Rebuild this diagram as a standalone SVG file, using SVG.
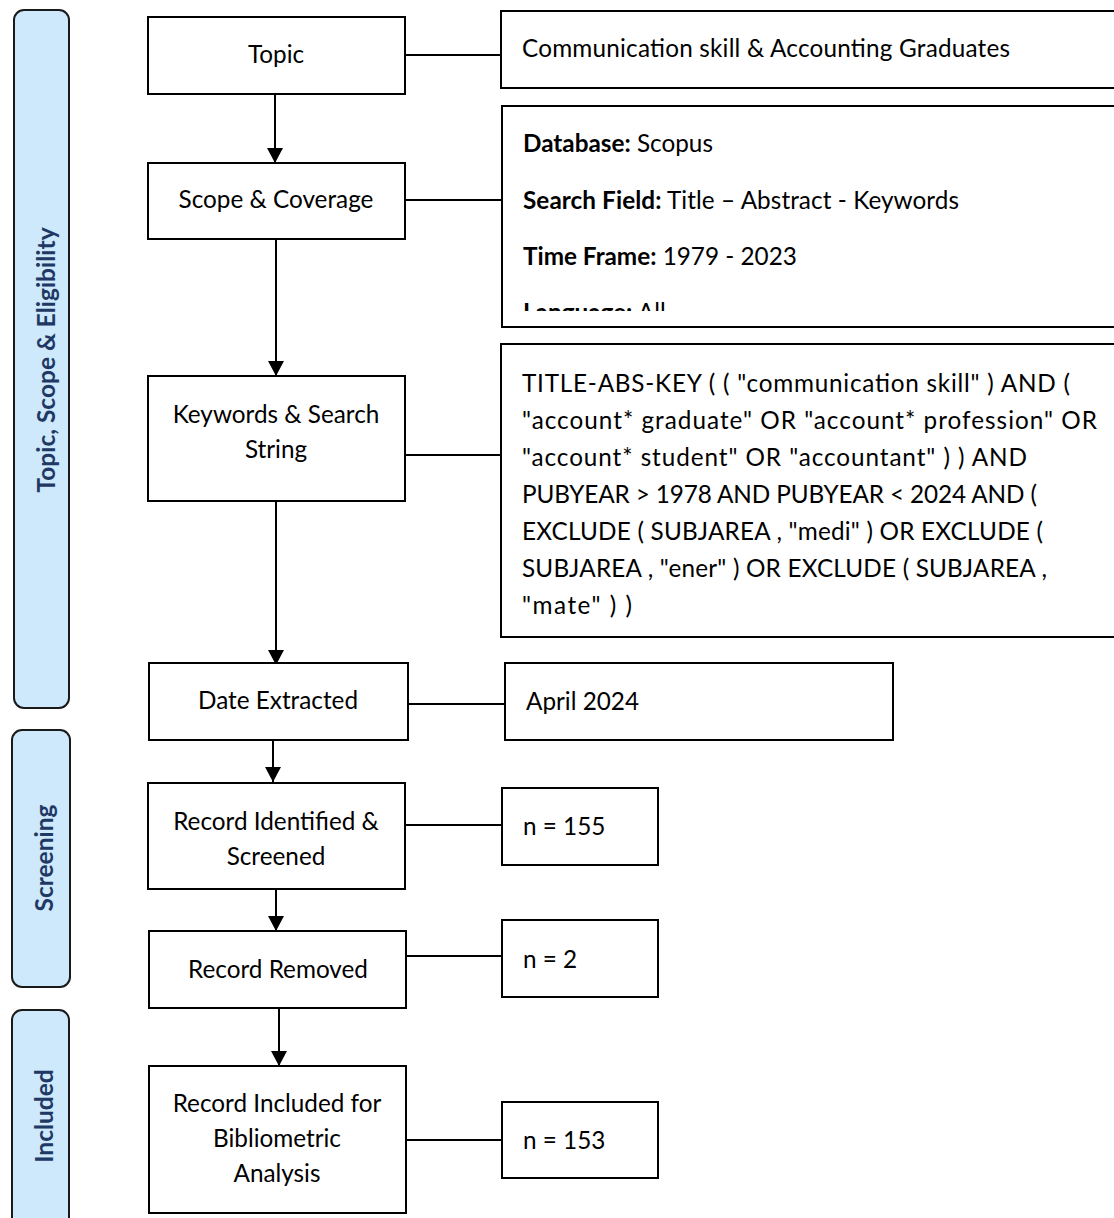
<svg xmlns="http://www.w3.org/2000/svg" width="1114" height="1218" viewBox="0 0 1114 1218">
  <style>
    .bar { fill: #CDE9FB; stroke: #1a1a1a; stroke-width: 2; }
    .bart { font-family: Lato, "Liberation Sans", sans-serif; font-weight: bold; font-size: 24.5px; fill: #1F3864; text-anchor: middle; }
    .box { fill: #ffffff; stroke: #000000; stroke-width: 2; }
    .t { font-family: Lato, "Liberation Sans", sans-serif; font-size: 24.3px; fill: #000000; }
    .c { text-anchor: middle; }
    .ln { stroke: #000000; stroke-width: 2; fill: none; }
    .ar { stroke: #000000; stroke-width: 2; fill: none; marker-end: url(#ah); }
  </style>
  <defs>
    <marker id="ah" markerWidth="14" markerHeight="16" refX="15" refY="8" orient="auto" markerUnits="userSpaceOnUse">
      <path d="M0,0 L15,8 L0,16 Z" fill="#000000"/>
    </marker>
    <clipPath id="scopeClip">
      <rect x="503" y="107" width="611" height="204"/>
    </clipPath>
  </defs>

  <!-- Stage bars -->
  <g id="bar-topic">
    <rect class="bar" x="14" y="10" width="55" height="698" rx="10"/>
    <text class="bart" transform="translate(55,360) rotate(-90)">Topic, Scope &amp; Eligibility</text>
  </g>
  <g id="bar-screening">
    <rect class="bar" x="12" y="730" width="58" height="257" rx="10"/>
    <text class="bart" transform="translate(53,858) rotate(-90)">Screening</text>
  </g>
  <g id="bar-included">
    <rect class="bar" x="12" y="1010" width="57" height="220" rx="10"/>
    <text class="bart" transform="translate(53,1116) rotate(-90)">Included</text>
  </g>

  <!-- Connectors -->
  <g id="connectors">
    <line class="ar" x1="275" y1="94" x2="275" y2="163"/>
    <line class="ar" x1="276" y1="239" x2="276" y2="376"/>
    <line class="ar" x1="276" y1="501" x2="276" y2="665"/>
    <line class="ar" x1="273" y1="740" x2="273" y2="782"/>
    <line class="ar" x1="276" y1="889" x2="276" y2="931"/>
    <line class="ar" x1="279" y1="1008" x2="279" y2="1066"/>
    <line class="ln" x1="405" y1="55" x2="501" y2="55"/>
    <line class="ln" x1="405" y1="200" x2="502" y2="200"/>
    <line class="ln" x1="405" y1="455" x2="501" y2="455"/>
    <line class="ln" x1="408" y1="704" x2="505" y2="704"/>
    <line class="ln" x1="405" y1="825" x2="502" y2="825"/>
    <line class="ln" x1="403" y1="956" x2="502" y2="956"/>
    <line class="ln" x1="406" y1="1140" x2="502" y2="1140"/>
  </g>

  <!-- Main column -->
  <g id="node-topic">
    <rect class="box" x="148" y="17" width="257" height="77"/>
    <text class="t c" x="276" y="63">Topic</text>
  </g>
  <g id="node-scope">
    <rect class="box" x="148" y="163" width="257" height="76"/>
    <text class="t c" x="276" y="208">Scope &amp; Coverage</text>
  </g>
  <g id="node-keywords">
    <rect class="box" x="148" y="376" width="257" height="125"/>
    <text class="t c" x="276" y="423">Keywords &amp; Search</text>
    <text class="t c" x="276" y="458">String</text>
  </g>
  <g id="node-date">
    <rect class="box" x="149" y="663" width="259" height="77"/>
    <text class="t c" x="278" y="709">Date Extracted</text>
  </g>
  <g id="node-identified">
    <rect class="box" x="148" y="783" width="257" height="106"/>
    <text class="t c" x="276" y="830">Record Identified &amp;</text>
    <text class="t c" x="276" y="865">Screened</text>
  </g>
  <g id="node-removed">
    <rect class="box" x="149" y="931" width="257" height="77"/>
    <text class="t c" x="278" y="978">Record Removed</text>
  </g>
  <g id="node-included">
    <rect class="box" x="149" y="1066" width="257" height="147"/>
    <text class="t c" x="277" y="1112">Record Included for</text>
    <text class="t c" x="277" y="1147">Bibliometric</text>
    <text class="t c" x="277" y="1182">Analysis</text>
  </g>

  <!-- Right column -->
  <g id="node-topic-detail">
    <rect class="box" x="501" y="11" width="630" height="77"/>
    <text class="t" x="522" y="57" textLength="488">Communication skill &amp; Accounting Graduates</text>
  </g>
  <g id="node-scope-detail">
    <rect class="box" x="502" y="106" width="630" height="221"/>
    <g clip-path="url(#scopeClip)">
      <text class="t" x="523" y="152"><tspan font-weight="bold">Database:</tspan> Scopus</text>
      <text class="t" x="523" y="209" textLength="436"><tspan font-weight="bold">Search Field:</tspan> Title – Abstract - Keywords</text>
      <text class="t" x="523" y="265"><tspan font-weight="bold">Time Frame:</tspan> 1979 - 2023</text>
      <text class="t" x="523" y="321"><tspan font-weight="bold">Language:</tspan> All</text>
    </g>
  </g>
  <g id="node-search-string">
    <rect class="box" x="501" y="344" width="630" height="293"/>
    <text class="t" x="522" y="392" textLength="548">TITLE-ABS-KEY ( ( "communication skill" ) AND (</text>
    <text class="t" x="522" y="429" textLength="575">"account* graduate" OR "account* profession" OR</text>
    <text class="t" x="522" y="466" textLength="505">"account* student" OR "accountant" ) ) AND</text>
    <text class="t" x="522" y="503" textLength="515">PUBYEAR &gt; 1978 AND PUBYEAR &lt; 2024 AND (</text>
    <text class="t" x="522" y="540" textLength="521">EXCLUDE ( SUBJAREA , "medi" ) OR EXCLUDE (</text>
    <text class="t" x="522" y="577" textLength="525">SUBJAREA , "ener" ) OR EXCLUDE ( SUBJAREA ,</text>
    <text class="t" x="522" y="614" textLength="110">"mate" ) )</text>
  </g>
  <g id="node-date-detail">
    <rect class="box" x="505" y="663" width="388" height="77"/>
    <text class="t" x="526" y="710">April 2024</text>
  </g>
  <g id="node-n155">
    <rect class="box" x="502" y="788" width="156" height="77"/>
    <text class="t" x="523" y="835">n = 155</text>
  </g>
  <g id="node-n2">
    <rect class="box" x="502" y="920" width="156" height="77"/>
    <text class="t" x="523" y="968">n = 2</text>
  </g>
  <g id="node-n153">
    <rect class="box" x="502" y="1102" width="156" height="76"/>
    <text class="t" x="523" y="1149">n = 153</text>
  </g>
</svg>
